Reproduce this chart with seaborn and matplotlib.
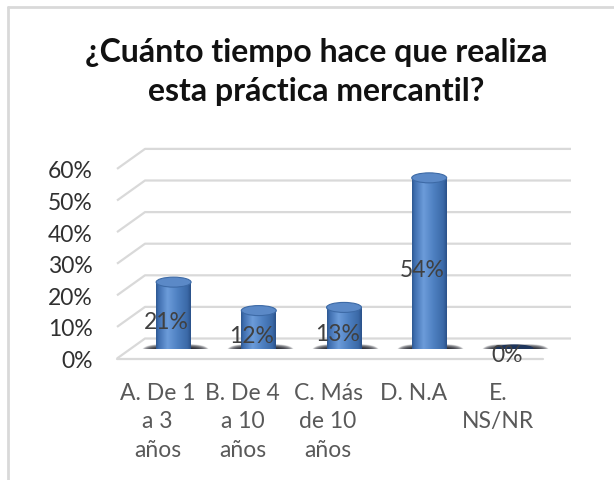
import numpy as np
import pandas as pd
import matplotlib
matplotlib.use("Agg")
import matplotlib.pyplot as plt
import seaborn as sns
from matplotlib.patches import Ellipse
from matplotlib.lines import Line2D
from matplotlib.colors import LinearSegmentedColormap
from matplotlib.ticker import PercentFormatter
from matplotlib.transforms import ScaledTranslation

# Survey answers: how long the respondent has practised this trade
categories = ["A. De 1\na 3\naños", "B. De 4\na 10\naños", "C. Más\nde 10\naños",
              "D. N.A", "E.\nNS/NR"]
shares = [0.21, 0.12, 0.13, 0.54, 0.00]
y_ticks = [0.0, 0.1, 0.2, 0.3, 0.4, 0.5, 0.6]
title = "¿Cuánto tiempo hace que realiza\nesta práctica mercantil?"

sns.set_style("white")
plt.rcParams["font.family"] = ["Lato", "DejaVu Sans"]

W, H = 614, 481
fig = plt.figure(figsize=(W / 100, H / 100), dpi=100)
fig.patch.set_facecolor("white")

# plot area (middle depth plane of the pseudo-3D box)
left_px, right_px, zero_px, top_px = 131, 557, 349.5, 159.9
ax = fig.add_axes([left_px / W, (H - zero_px) / H,
                   (right_px - left_px) / W, (zero_px - top_px) / H])

df = pd.DataFrame({"cat": categories, "share": shares})
bar_w = 0.41
sns.barplot(data=df, x="cat", y="share", color="#4F81BD", width=bar_w,
            ax=ax, zorder=3, linewidth=0)

ax.set_xlim(-0.5, 4.5)
ax.set_ylim(0, 0.6)
for s in ax.spines.values():
    s.set_visible(False)
ax.set_xlabel("")
ax.set_ylabel("")

# pixel -> data conversions for the depth offset
px_y = 0.6 / (zero_px - top_px)
px_x = 5.0 / (right_px - left_px)
dy = 10 * px_y
dx = 14 * px_x

grid_c = "#d9d9d9"
for v in y_ticks:
    xs = [-0.5 - dx, -0.5 + dx, 4.5 + dx]
    ys = [v - dy, v + dy, v + dy]
    ax.plot(xs, ys, color=grid_c, lw=1.6, clip_on=False, zorder=0,
            solid_capstyle="butt")
# front edge of the floor
ax.plot([-0.5 - dx, 4.5 - dx], [-dy, -dy], color=grid_c, lw=1.6,
        clip_on=False, zorder=0)

# cylinder shading
cyl_cmap = LinearSegmentedColormap.from_list(
    "cyl", [(0, "#2D5790"), (0.07, "#3E6DAE"), (0.33, "#6C9CDA"),
            (0.6, "#5082C3"), (0.9, "#3B69A7"), (1, "#2A5088")])
grad = np.linspace(0, 1, 256).reshape(1, -1)
eh = 10 * px_y

# soft shadow blob
gx, gy = np.meshgrid(np.linspace(-1, 1, 200), np.linspace(-1, 1, 40))
blob = np.clip(1 - (gx ** 4 + gy ** 2), 0, 1) ** 0.6
shadow = np.zeros((40, 200, 4))
shadow[..., 0] = 0.09
shadow[..., 1] = 0.10
shadow[..., 2] = 0.14
shadow[..., 3] = blob

for p in list(ax.patches):
    x0, w, h = p.get_x(), p.get_width(), p.get_height()
    cx = x0 + w / 2
    ax.imshow(shadow, extent=(x0 - 0.17, x0 + w + 0.2, -0.02, 0.013),
              aspect="auto", zorder=2, interpolation="bilinear")
    if h > 0:
        bottom = Ellipse((cx, 0), w, eh, facecolor="none", edgecolor="none",
                         zorder=3)
        ax.add_patch(bottom)
        for clip in (bottom, p):
            im = ax.imshow(grad, cmap=cyl_cmap, extent=(x0, x0 + w, -eh, h),
                           aspect="auto", zorder=3.5, interpolation="bilinear")
            im.set_clip_path(clip)
        ax.add_patch(Ellipse((cx, h), w, eh, facecolor="#5B89C7",
                             edgecolor="#3D6AA6", lw=0.8, zorder=4))
    else:
        ax.add_patch(Ellipse((cx, h), w * 1.05, eh * 0.7, facecolor="#1E355C",
                             edgecolor="#1E355C", lw=0.8, zorder=4))
    ax.annotate(f"{h:.0%}", (cx, h / 2), xytext=(-5, -4.3),
                textcoords="offset points", ha="center", va="center",
                fontsize=16.5, color="#404040", zorder=6)

ax.set_xlim(-0.5, 4.5)
ax.set_ylim(0, 0.6)

# axis labels
ax.set_yticks(y_ticks)
ax.yaxis.set_major_formatter(PercentFormatter(1.0, decimals=0))
ax.tick_params(axis="y", length=0, pad=27.4, labelsize=16.5, labelcolor="#303030")
ax.tick_params(axis="x", length=0, pad=24, labelsize=16.5, labelcolor="#595959")
ax.set_xticks(range(len(categories)))
ax.set_xticklabels(categories, linespacing=1.45)
for lab in ax.get_yticklabels():
    lab.set_transform(lab.get_transform() +
                      ScaledTranslation(0, -0.10, fig.dpi_scale_trans))
for lab in ax.get_xticklabels():
    lab.set_transform(lab.get_transform() +
                      ScaledTranslation(-0.16, 0, fig.dpi_scale_trans))

fig.text(316 / W, 1 - 72 / H, title, ha="center", va="center",
         fontsize=23, fontweight="bold", color="#111111", linespacing=1.42)

# frame of the chart area
fig.add_artist(Line2D([8 / W, 8 / W], [0, 1 - 8 / H], transform=fig.transFigure,
                      color="#d9d9d9", lw=2))
fig.add_artist(Line2D([8 / W, 1], [1 - 8 / H, 1 - 8 / H], transform=fig.transFigure,
                      color="#d9d9d9", lw=2))

fig.savefig("out.png", dpi=100)
